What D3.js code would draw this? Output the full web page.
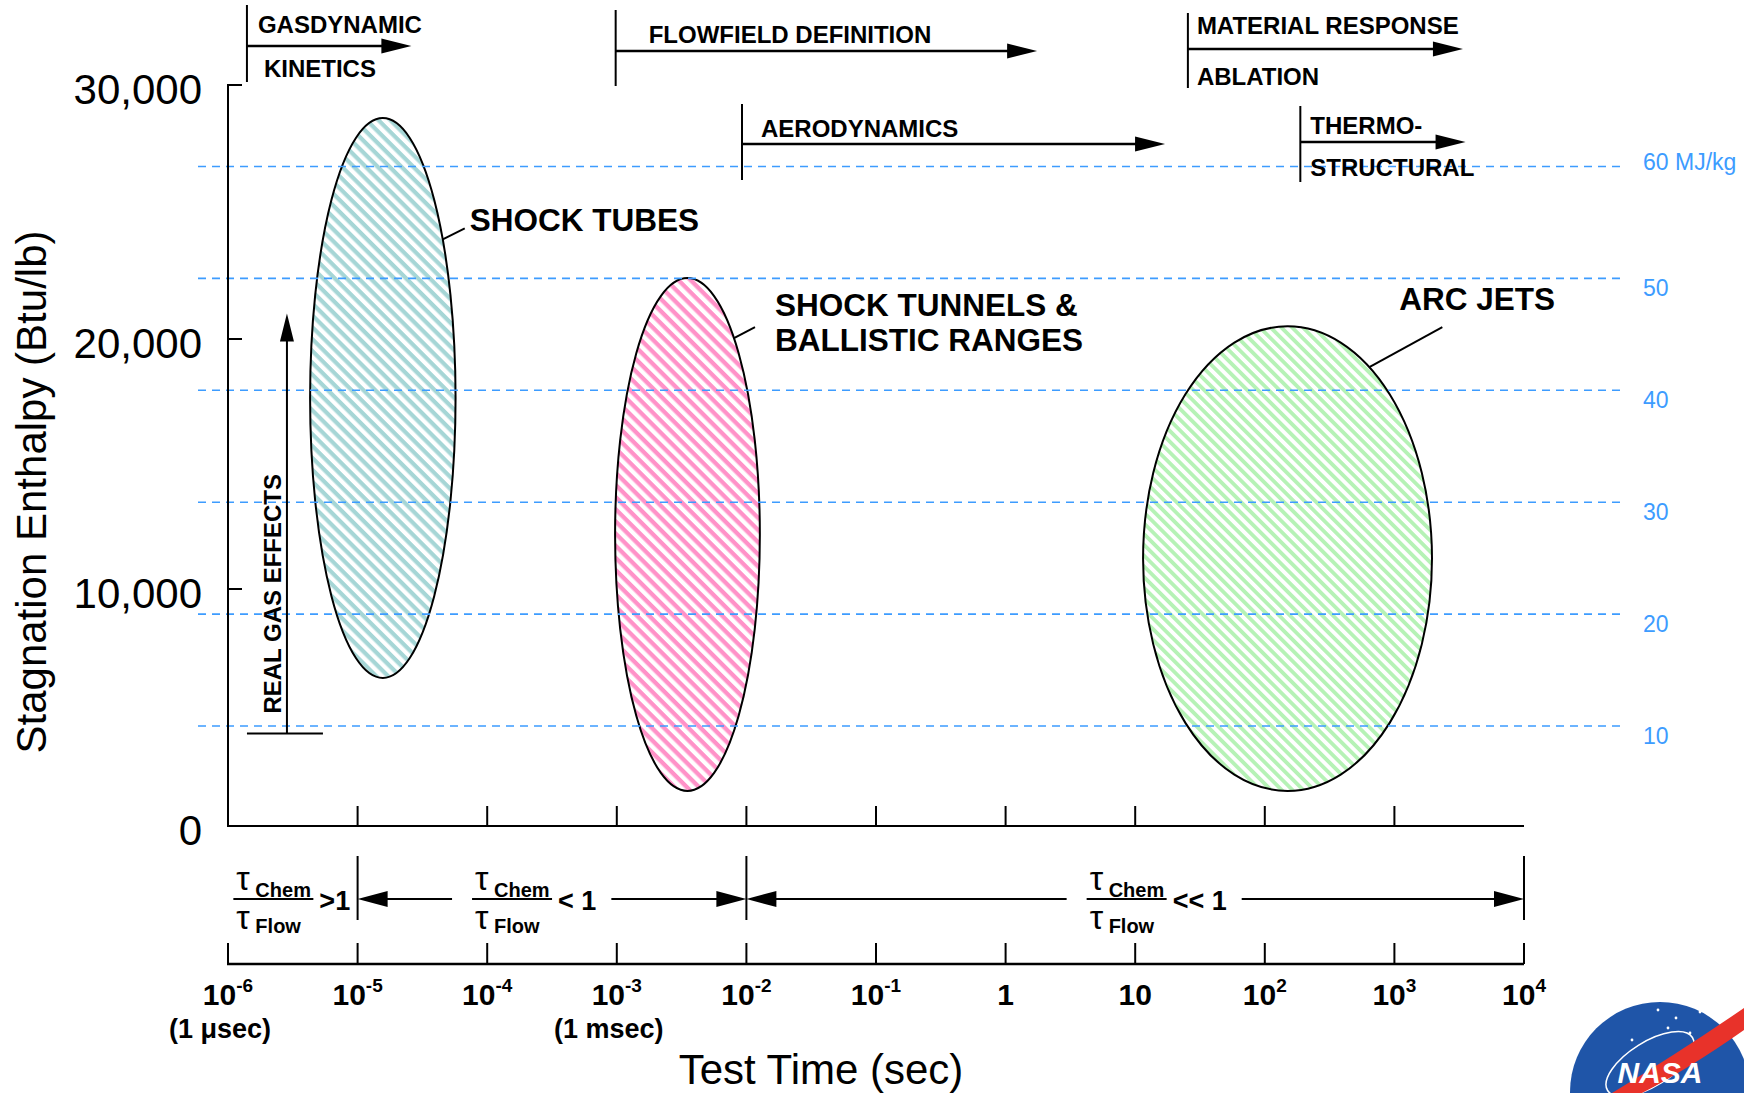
<!DOCTYPE html>
<html>
<head>
<meta charset="utf-8">
<script src="https://cdn.jsdelivr.net/npm/d3@7"></script>
<style>
  body { margin: 0; background: #fff; }
  svg { display: block; font-family: "Liberation Sans", Arial, sans-serif; }
</style>
</head>
<body>
<div id="chart"></div>
<script>
// test facilities (ellipses): time range in sec, enthalpy range in Btu/lb
var facilities = ["SHOCK TUBES", "SHOCK TUNNELS &|BALLISTIC RANGES", "ARC JETS"];
var timeMin = [4.3e-6, 9.7e-4, 11.5];
var timeMax = [5.7e-5, 1.27e-2, 1950];
var enthalpyMin = [6250, 1480, 1480];
var enthalpyMax = [28700, 22400, 20500];

// axes
var enthalpyTicks = [0, 10000, 20000, 30000];
var mjTicks = [10, 20, 30, 40, 50, 60];
var timeExponents = [-6, -5, -4, -3, -2, -1, 0, 1, 2, 3, 4];
var timeNotes = ["(1 \u03bcsec)", "(1 msec)"];
var timeNoteAt = [1e-6, 1e-3];

// phases along the top
var phases = ["GASDYNAMIC|KINETICS", "FLOWFIELD DEFINITION", "AERODYNAMICS", "MATERIAL RESPONSE|ABLATION", "THERMO-|STRUCTURAL"];
var phaseStart = [1.4e-6, 9.8e-4, 9.25e-3, 25.5, 188];
var phaseEnd = [2.6e-5, 1.75, 17, 3380, 3540];

// chemistry / flow time regimes
var regimeStart = [1e-6, 1e-5, 1e-2];
var regimeEnd = [1e-5, 1e-2, 1e4];
var regimeText = [">1", "< 1", "<< 1"];
var regimeLabelAt = [1.1e-6, 7.64e-5, 4.22];

// real gas effects arrow
var realGasTime = 2.85e-6;
var realGasRange = [3900, 21000];

var W = 1744, H = 1093;
var hatchColors = ["#a6d6d6", "#ff92c8", "#b6f2b6"];
var hatchGap = [8.4, 8.6, 7.6];
var blue = "#3d9cff";

var svg = d3.select("#chart").append("svg")
  .attr("width", W)
  .attr("height", H);

var x = d3.scaleLog().domain([1e-6, 1e4]).range([228, 1524]);
// hand drawn axis: ticks are not evenly spaced
var y = d3.scaleLinear().domain(enthalpyTicks).range([826, 589, 339, 85]);
var mj = d3.scaleLinear().domain([10, 60]).range([726, 166.5]);

var defs = svg.append("defs");
facilities.forEach(function(f, i) {
  var p = defs.append("pattern")
    .attr("id", "hatch" + i)
    .attr("patternUnits", "userSpaceOnUse")
    .attr("width", 10)
    .attr("height", hatchGap[i])
    .attr("patternTransform", "rotate(45)");
  p.append("rect").attr("width", 10).attr("height", hatchGap[i]).attr("fill", "#fff");
  p.append("rect").attr("width", 10).attr("height", hatchGap[i] * 0.5).attr("fill", hatchColors[i]);
});

function arrowHead(g, tipX, tipY, dir, len, half) {
  // dir: 1 right, -1 left, "up"
  var pts;
  if (dir === "up") pts = [[tipX, tipY], [tipX - half, tipY + len], [tipX + half, tipY + len]];
  else pts = [[tipX, tipY], [tipX - dir * len, tipY - half], [tipX - dir * len, tipY + half]];
  g.append("polygon").attr("points", pts.map(function(p) { return p.join(","); }).join(" ")).attr("fill", "#000");
}

// ---- ellipses
var ell = svg.append("g");
ell.selectAll("ellipse")
  .data(facilities)
  .enter()
  .append("ellipse")
  .attr("cx", function(d, i) { return (x(timeMin[i]) + x(timeMax[i])) / 2; })
  .attr("rx", function(d, i) { return (x(timeMax[i]) - x(timeMin[i])) / 2; })
  .attr("cy", function(d, i) { return (y(enthalpyMin[i]) + y(enthalpyMax[i])) / 2; })
  .attr("ry", function(d, i) { return (y(enthalpyMin[i]) - y(enthalpyMax[i])) / 2; })
  .attr("fill", function(d, i) { return "url(#hatch" + i + ")"; })
  .attr("stroke", "#000")
  .attr("stroke-width", 2);

// ---- MJ/kg dashed lines
var grid = svg.append("g");
grid.selectAll("line")
  .data(mjTicks)
  .enter()
  .append("line")
  .attr("x1", 198).attr("x2", 1624)
  .attr("y1", function(d) { return mj(d); })
  .attr("y2", function(d) { return mj(d); })
  .attr("stroke", blue)
  .attr("stroke-width", 1.6)
  .attr("stroke-dasharray", "8,6");
grid.selectAll("text")
  .data(mjTicks)
  .enter()
  .append("text")
  .attr("x", 1643)
  .attr("y", function(d) { return mj(d) + (d === 60 ? 3 : 18); })
  .attr("font-size", 23)
  .attr("fill", blue)
  .text(function(d) { return d === 60 ? d + " MJ/kg" : d; });

// ---- facility labels with leaders
var labelLayout = [
  { ang: -34.5, off: [22, -11], tx: 5, ty: [3] },
  { ang: -50, off: [21, -11], tx: 20, ty: [-11, 24] },
  { ang: -55.5, off: [73, -40], tx: -43, ty: [-17] }
];
facilities.forEach(function(f, i) {
  var cx = (x(timeMin[i]) + x(timeMax[i])) / 2, rx = (x(timeMax[i]) - x(timeMin[i])) / 2;
  var cy = (y(enthalpyMin[i]) + y(enthalpyMax[i])) / 2, ry = (y(enthalpyMin[i]) - y(enthalpyMax[i])) / 2;
  var L = labelLayout[i], a = L.ang * Math.PI / 180;
  var sx = cx + rx * Math.cos(a), sy = cy + ry * Math.sin(a);
  var ex = sx + L.off[0], ey = sy + L.off[1];
  svg.append("line").attr("x1", sx).attr("y1", sy).attr("x2", ex).attr("y2", ey)
    .attr("stroke", "#000").attr("stroke-width", 2);
  f.split("|").forEach(function(line, k) {
    svg.append("text").attr("x", ex + L.tx).attr("y", ey + L.ty[k])
      .attr("font-size", 31.5).attr("font-weight", "bold").text(line);
  });
});

// ---- main axes
var ax = svg.append("g").attr("stroke", "#000").attr("stroke-width", 2).attr("fill", "none");
ax.append("path").attr("d", "M242," + y(30000) + "H228V" + y(0) + "H" + x(1e4));
[10000, 20000].forEach(function(v) {
  ax.append("line").attr("x1", 228).attr("x2", 242).attr("y1", y(v)).attr("y2", y(v));
});
timeExponents.slice(1, -1).forEach(function(e) {
  ax.append("line").attr("x1", x(Math.pow(10, e))).attr("x2", x(Math.pow(10, e)))
    .attr("y1", y(0)).attr("y2", y(0) - 20);
});

svg.append("g").selectAll("text")
  .data(enthalpyTicks)
  .enter()
  .append("text")
  .attr("x", 202)
  .attr("y", function(d) { return y(d) + 19; })
  .attr("text-anchor", "end")
  .attr("font-size", 42)
  .text(d3.format(","));

svg.append("text")
  .attr("transform", "translate(46,492) rotate(-90)")
  .attr("text-anchor", "middle")
  .attr("font-size", 42)
  .text("Stagnation Enthalpy (Btu/lb)");

// ---- real gas effects
var rg = svg.append("g");
var rgx = x(realGasTime);
rg.append("line").attr("x1", rgx - 40).attr("x2", rgx + 36).attr("y1", y(realGasRange[0])).attr("y2", y(realGasRange[0]))
  .attr("stroke", "#000").attr("stroke-width", 2);
rg.append("line").attr("x1", rgx).attr("x2", rgx).attr("y1", y(realGasRange[0])).attr("y2", y(realGasRange[1]) + 20)
  .attr("stroke", "#000").attr("stroke-width", 2);
arrowHead(rg, rgx, y(realGasRange[1]), "up", 28, 7);
rg.append("text")
  .attr("transform", "translate(" + (rgx - 6) + "," + (y(realGasRange[0]) - 20) + ") rotate(-90)")
  .attr("font-size", 24).attr("font-weight", "bold")
  .text("REAL GAS EFFECTS");

// ---- phases at the top
var phaseLayout = [
  { arrowY: 46, top: 5, bottom: 82, dx: [11, 17], base: [33, 77] },
  { arrowY: 51, top: 10, bottom: 86, dx: [33], base: [43] },
  { arrowY: 144, top: 104, bottom: 180, dx: [19], base: [137] },
  { arrowY: 49, top: 13, bottom: 88, dx: [9, 9], base: [34, 85] },
  { arrowY: 142, top: 106, bottom: 182, dx: [10, 10], base: [134, 176] }
];
phases.forEach(function(p, i) {
  var g = svg.append("g"), L = phaseLayout[i];
  var x0 = x(phaseStart[i]), x1 = x(phaseEnd[i]);
  g.append("line").attr("x1", x0).attr("x2", x0).attr("y1", L.top).attr("y2", L.bottom)
    .attr("stroke", "#000").attr("stroke-width", 2);
  g.append("line").attr("x1", x0).attr("x2", x1 - 20).attr("y1", L.arrowY).attr("y2", L.arrowY)
    .attr("stroke", "#000").attr("stroke-width", 2.5);
  arrowHead(g, x1, L.arrowY, 1, 30, 7.5);
  p.split("|").forEach(function(line, k) {
    g.append("text").attr("x", x0 + L.dx[k]).attr("y", L.base[k])
      .attr("font-size", 24).attr("font-weight", "bold").text(line);
  });
});

// ---- regimes row
var rowY = 899;
var reg = svg.append("g");
[1e-5, 1e-2, 1e4].forEach(function(t) {
  reg.append("line").attr("x1", x(t)).attr("x2", x(t)).attr("y1", 856).attr("y2", 920)
    .attr("stroke", "#000").attr("stroke-width", 2);
});
regimeText.forEach(function(txt, i) {
  var g = reg.append("g");
  var x0 = x(regimeLabelAt[i]);
  g.append("text").attr("x", x0 + 3).attr("y", 890).attr("font-size", 34).text("\u03c4");
  g.append("text").attr("x", x0 + 22).attr("y", 897).attr("font-size", 20).attr("font-weight", "bold").text("Chem");
  g.append("line").attr("x1", x0).attr("x2", x0 + 80).attr("y1", rowY).attr("y2", rowY)
    .attr("stroke", "#000").attr("stroke-width", 2);
  g.append("text").attr("x", x0 + 3).attr("y", 929).attr("font-size", 34).text("\u03c4");
  g.append("text").attr("x", x0 + 22).attr("y", 933).attr("font-size", 20).attr("font-weight", "bold").text("Flow");
  var t = g.append("text").attr("x", x0 + 86).attr("y", 910).attr("font-size", 27).attr("font-weight", "bold").text(txt);
  if (i === 0) return;
  var tEnd = t.node().getBBox();
  var gapL = x0 - 20, gapR = tEnd.x + tEnd.width + 15;
  var xs = x(regimeStart[i]), xe = x(regimeEnd[i]);
  reg.append("line").attr("x1", xs + 20).attr("x2", gapL).attr("y1", rowY).attr("y2", rowY)
    .attr("stroke", "#000").attr("stroke-width", 2);
  reg.append("line").attr("x1", gapR).attr("x2", xe - 20).attr("y1", rowY).attr("y2", rowY)
    .attr("stroke", "#000").attr("stroke-width", 2);
  arrowHead(reg, xs, rowY, -1, 30, 8);
  arrowHead(reg, xe, rowY, 1, 30, 8);
});

// ---- bottom time axis
var bx = svg.append("g");
var axisY = 964;
bx.append("line").attr("x1", 227).attr("x2", x(1e4)).attr("y1", axisY).attr("y2", axisY)
  .attr("stroke", "#000").attr("stroke-width", 2.5);
timeExponents.forEach(function(e) {
  var t = Math.pow(10, e);
  bx.append("line").attr("x1", x(t)).attr("x2", x(t)).attr("y1", axisY).attr("y2", axisY - 21)
    .attr("stroke", "#000").attr("stroke-width", 2);
  var lab = bx.append("text").attr("x", x(t)).attr("y", 1005).attr("text-anchor", "middle")
    .attr("font-size", 30).attr("font-weight", "bold");
  if (e === 0) lab.text("1");
  else if (e === 1) lab.text("10");
  else {
    lab.append("tspan").text("10");
    lab.append("tspan").attr("dy", -13).attr("font-size", 19).text(e);
  }
});
timeNotes.forEach(function(n, i) {
  bx.append("text").attr("x", x(timeNoteAt[i]) - 8).attr("y", 1038).attr("text-anchor", "middle")
    .attr("font-size", 27).attr("font-weight", "bold").text(n);
});
svg.append("text").attr("x", 821).attr("y", 1084).attr("text-anchor", "middle")
  .attr("font-size", 42).text("Test Time (sec)");

// ---- logo in the corner
var logo = svg.append("g");
logo.append("circle").attr("cx", 1660).attr("cy", 1092).attr("r", 90).attr("fill", "#1f55a8");
logo.append("ellipse").attr("cx", 1650).attr("cy", 1064).attr("rx", 50).attr("ry", 22)
  .attr("transform", "rotate(-32,1650,1064)").attr("fill", "none").attr("stroke", "#fff").attr("stroke-width", 1.5);
[[1658, 1010], [1676, 1018], [1690, 1033], [1668, 1028], [1632, 1040], [1700, 1012]].forEach(function(s) {
  logo.append("circle").attr("cx", s[0]).attr("cy", s[1]).attr("r", 1.4).attr("fill", "#fff");
});
logo.append("path").attr("d", "M1612,1093 Q1680,1052 1744,1008 L1744,1030 Q1690,1068 1642,1093 Z").attr("fill", "#e8322a");
logo.append("text").attr("x", 1660).attr("y", 1083).attr("text-anchor", "middle")
  .attr("font-size", 30).attr("font-weight", "bold").attr("fill", "#fff").attr("font-style", "italic").text("NASA");
</script>
</body>
</html>
